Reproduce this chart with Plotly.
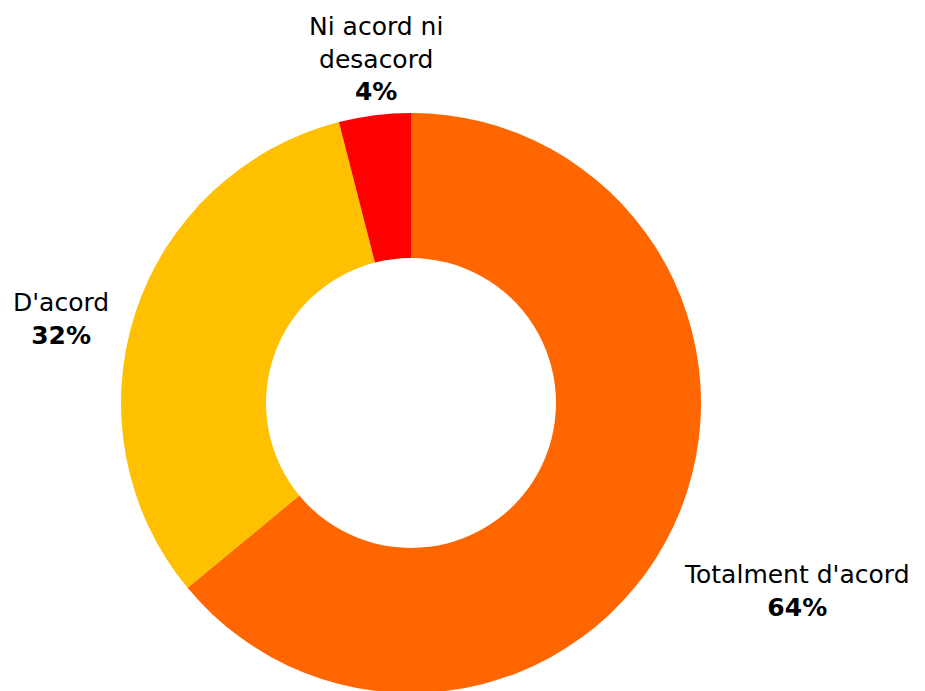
import plotly.graph_objects as go

categories = ["Totalment d'acord", "D'acord", "Ni acord ni desacord"]
label_text = ["Totalment d'acord", "D'acord", "Ni acord ni<br>desacord"]
values = [64, 32, 4]
colors = ["#FF6600", "#FFC000", "#FF0000"]

W, H = 925, 691
OFF = 8  # page body margin
# label centres (page pixels) for the outside labels
label_pos = [(797, 591), (61, 319), (376, 59)]
cx, cy, r = 411, 403, 290

fig = go.Figure()
fig.add_trace(go.Pie(
    labels=categories,
    values=values,
    hole=0.5,
    sort=False,
    direction="clockwise",
    rotation=0,
    marker=dict(colors=colors, line=dict(width=0)),
    textinfo="none",
    hoverinfo="label+percent",
    showlegend=False,
    domain=dict(x=[(cx - OFF - r) / W, (cx - OFF + r) / W],
                y=[1 - (cy - OFF + r) / H, 1 - (cy - OFF - r) / H]),
))

total = sum(values)
for txt, v, (px, py) in zip(label_text, values, label_pos):
    fig.add_annotation(
        x=(px - OFF) / W, y=1 - (py - OFF) / H, xref="paper", yref="paper",
        text=f"{txt}<br><b>{round(100 * v / total)}%</b>",
        showarrow=False, xanchor="center", yanchor="middle",
        font=dict(family="DejaVu Sans", size=25, color="#000000"),
        align="center",
    )

fig.update_layout(
    width=W, height=H,
    margin=dict(l=0, r=0, t=0, b=0),
    paper_bgcolor="white", plot_bgcolor="white",
)
fig.write_html("out.html")
